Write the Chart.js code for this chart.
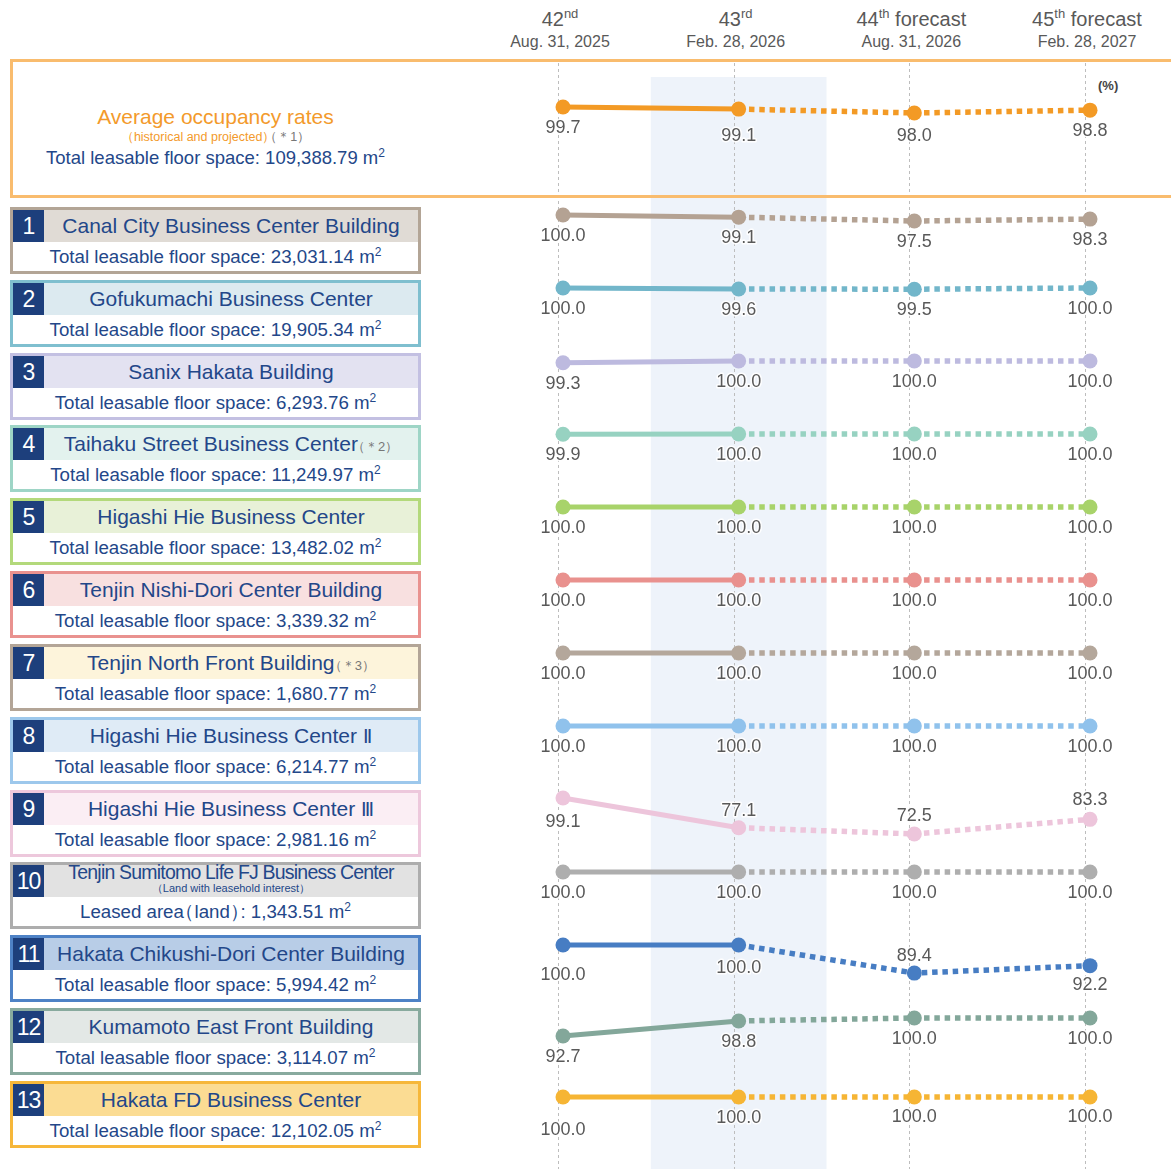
<!DOCTYPE html>
<html><head><meta charset="utf-8">
<script src="https://cdn.jsdelivr.net/npm/chart.js@4/dist/chart.umd.min.js"></script>
<style>
html,body{margin:0;padding:0;background:#fff;}
body{width:1171px;height:1169px;position:relative;overflow:hidden;font-family:"Liberation Sans",Arial,sans-serif;}
#chart{position:absolute;left:440px;top:60px;}
.hdr{position:absolute;top:6px;width:200px;margin-left:-100px;text-align:center;color:#595959;white-space:nowrap;}
.hdr .p{font-size:20px;line-height:26px;}
.hdr .p sup{font-size:13px;line-height:0;vertical-align:0.6em;}
.hdr .d{font-size:16px;line-height:20px;}
#obox{position:absolute;left:10px;top:59px;width:1180px;height:139px;border:3px solid #F9BC6E;box-sizing:border-box;z-index:5;pointer-events:none;}
#otext{position:absolute;left:10px;top:105px;width:411px;text-align:center;white-space:nowrap;}
#otext .t{color:#F39A2B;font-size:21px;line-height:24px;}
#otext .s{color:#F39A2B;font-size:12.5px;line-height:17px;}
#otext .s span.g{color:#777;}
#otext .b{color:#234789;font-size:18.5px;line-height:23px;}
sup.m{font-size:12px;line-height:0;vertical-align:0.6em;}
.op{margin-left:-0.45em;}
.cp{margin-right:-0.45em;}
.rn{font-family:"DejaVu Sans",sans-serif;font-size:19px;}
#pct{position:absolute;left:1098px;top:78px;font-size:13px;color:#444;font-weight:bold;}
.bx{position:absolute;left:10px;width:411px;height:67px;border:3px solid;box-sizing:border-box;background:#fff;}
.num{position:absolute;left:0;top:0;width:31px;height:32px;background:#1D3F7C;color:#fff;font-size:23px;line-height:32px;text-align:center;letter-spacing:-1px;}
.ttl{position:absolute;left:31px;right:0;top:0;height:32px;line-height:32px;text-align:center;color:#234789;font-size:21px;white-space:nowrap;}
.ttl .n{font-size:13px;color:#777;}
.ttl .l1{position:absolute;left:0;right:0;top:-3px;height:20px;line-height:20px;font-size:19.5px;letter-spacing:-0.8px;}
.ttl .l2{position:absolute;left:0;right:0;top:17px;height:12px;line-height:12px;font-size:11px;color:#234789;}
.body{position:absolute;left:0;right:0;top:32px;height:29px;line-height:29px;text-align:center;color:#234789;font-size:18.7px;white-space:nowrap;}
</style>
</head>
<body>
<div id="obox"></div>
<div id="otext">
  <div class="t">Average occupancy rates</div>
  <div class="s">（historical and projected<span class="cp">）</span><span class="g"><span class="op">（</span>＊1）</span></div>
  <div class="b">Total leasable floor space: <span id="totalSpace"></span> m<sup class="m">2</sup></div>
</div>
<div id="pct">(%)</div>
<div id="rows"></div>
<canvas id="chart" width="731" height="1109"></canvas>
<script>
// ---- data ----
const periodNums = ['42', '43', '44', '45'];
const periodSuffixes = ['nd', 'rd', 'th', 'th'];
const periodNotes = ['', '', 'forecast', 'forecast'];
const periodDates = ['Aug. 31, 2025', 'Feb. 28, 2026', 'Aug. 31, 2026', 'Feb. 28, 2027'];

const totalSpace = '109,388.79';
const avgOccupancy = [99.7, 99.1, 98.0, 98.8];

const buildingNames = [
  'Canal City Business Center Building',
  'Gofukumachi Business Center',
  'Sanix Hakata Building',
  'Taihaku Street Business Center',
  'Higashi Hie Business Center',
  'Tenjin Nishi-Dori Center Building',
  'Tenjin North Front Building',
  'Higashi Hie Business Center Ⅱ',
  'Higashi Hie Business Center Ⅲ',
  'Tenjin Sumitomo Life FJ Business Center',
  'Hakata Chikushi-Dori Center Building',
  'Kumamoto East Front Building',
  'Hakata FD Business Center'
];
const buildingNotes = ['', '', '', '（＊2）', '', '', '（＊3）', '', '', '', '', '', ''];
const floorSpaces = ['23,031.14', '19,905.34', '6,293.76', '11,249.97', '13,482.02', '3,339.32', '1,680.77',
  '6,214.77', '2,981.16', '1,343.51', '5,994.42', '3,114.07', '12,102.05'];

const occ01 = [100.0, 99.1, 97.5, 98.3];
const occ02 = [100.0, 99.6, 99.5, 100.0];
const occ03 = [99.3, 100.0, 100.0, 100.0];
const occ04 = [99.9, 100.0, 100.0, 100.0];
const occ05 = [100.0, 100.0, 100.0, 100.0];
const occ06 = [100.0, 100.0, 100.0, 100.0];
const occ07 = [100.0, 100.0, 100.0, 100.0];
const occ08 = [100.0, 100.0, 100.0, 100.0];
const occ09 = [99.1, 77.1, 72.5, 83.3];
const occ10 = [100.0, 100.0, 100.0, 100.0];
const occ11 = [100.0, 100.0, 89.4, 92.2];
const occ12 = [92.7, 98.8, 100.0, 100.0];
const occ13 = [100.0, 100.0, 100.0, 100.0];
const buildingSeries = [occ01, occ02, occ03, occ04, occ05, occ06, occ07, occ08, occ09, occ10, occ11, occ12, occ13];

// ---- styles ----
const lineColors = ['#F39A25', '#B4A293', '#72B6CA', '#BDBADF', '#97D2C1', '#A8D36A', '#E9918E', '#B4A79B',
  '#90C2EC', '#EDC5DB', '#AEAEAE', '#477DC3', '#83A79A', '#F6B534'];
const boxBorders = ['#B3A596', '#7FBFCF', '#C3C0E2', '#9ED5C6', '#B3D97B', '#E9928F', '#B3A597', '#9DC8EC',
  '#EDC8DC', '#ADADAD', '#4E82C6', '#88AA9E', '#F6B73A'];
const titleBgs = ['#E0DBD5', '#DCEAF0', '#E3E2F1', '#E3F2EE', '#E8F1D8', '#F8E0E0', '#FDF4DB', '#DFEBF6',
  '#FBEEF4', '#E2E2E2', '#B8CDE7', '#E3E8E6', '#FBDC93'];
// per-row axis windows (row 0 = average)
const rowMax = [113.13, 105, 105, 105, 105, 105, 105, 105, 105, 107.25, 105, 104.5, 104.86, 107.5];
const rowMin = [72.27, 74.6, 74.6, 74.6, 74.6, 74.6, 74.6, 74.6, 74.6, 53.2, 74.6, 77.0, 75.3, 77.1];
const rowWeights = [143, 73, 73, 73, 73, 73, 73, 73, 73, 73, 73, 73, 73, 73];
const labelOffsets = {0: [21, 27, 23, 21], 9: [24, -17, -18, -19], 11: [30, 23, -17, 19], 13: [33, 21, 20, 20]};
const defaultLabelOffset = 21;

// ---- left boxes ----
document.getElementById('totalSpace').textContent = totalSpace;
const fmtName = s => s.replace(/([ⅡⅢ])/g, '<span class="rn">$1</span>');
const fmtParen = s => s.replace('（', '<span class="op">（</span>').replace('）', '<span class="cp">）</span>');
const rowsEl = document.getElementById('rows');
buildingNames.forEach((name, i) => {
  const box = document.createElement('div');
  box.className = 'bx';
  box.style.top = Math.round(207 + i * 72.83) + 'px';
  box.style.borderColor = boxBorders[i];
  let title;
  if (i === 9) {
    title = `<div class="l1">${name}</div><div class="l2">（Land with leasehold interest）</div>`;
  } else {
    title = fmtName(name) + (buildingNotes[i] ? `<span class="n"><span class="op">（</span>${buildingNotes[i].slice(1)}</span>` : '');
  }
  const bodyText = i === 9 ? `Leased area${fmtParen('（land）')}: ${floorSpaces[i]} m<sup class="m">2</sup>`
                           : `Total leasable floor space: ${floorSpaces[i]} m<sup class="m">2</sup>`;
  box.innerHTML = `<div class="num">${i + 1}</div><div class="ttl" style="background:${titleBgs[i]}">${title}</div><div class="body">${bodyText}</div>`;
  rowsEl.appendChild(box);
});

// ---- chart ----
const allSeries = [avgOccupancy].concat(buildingSeries);
const scales = {
  x: {type: 'category', display: false, grid: {display: false}}
};
allSeries.forEach((s, r) => {
  scales['r' + r] = {type: 'linear', position: 'right', display: false, stack: 'rows',
    stackWeight: rowWeights[r], weight: r, min: rowMin[r], max: rowMax[r]};
});
scales['rEnd'] = {type: 'linear', position: 'right', display: false, stack: 'rows', stackWeight: 17, weight: 99, min: 0, max: 1};

const datasets = allSeries.map((s, r) => ({
  label: r === 0 ? 'Average' : buildingNames[r - 1],
  data: s,
  yAxisID: 'r' + r,
  borderColor: lineColors[r],
  backgroundColor: lineColors[r],
  pointBackgroundColor: lineColors[r],
  pointBorderWidth: 0,
  pointRadius: 7.5,
  borderWidth: 5,
  borderCapStyle: 'butt',
  tension: 0,
  clip: false,
  segment: {
    borderDash: ctx => ctx.p0DataIndex >= 1 ? [5.5, 4.8] : undefined,
    borderWidth: ctx => ctx.p0DataIndex >= 1 ? 5.5 : 5
  }
}));

const bgPlugin = {
  id: 'bgPlugin',
  beforeDatasetsDraw(chart) {
    const {ctx} = chart;
    const x = chart.scales.x;
    const xs = periodNums.map((_, i) => x.getPixelForValue(i));
    ctx.save();
    const bl = (xs[0] + xs[1]) / 2, br = (xs[1] + xs[2]) / 2;
    ctx.fillStyle = '#EEF3FA';
    ctx.fillRect(bl, 17, br - bl, chart.height - 17);
    ctx.strokeStyle = '#BDBDBD';
    ctx.lineWidth = 1;
    ctx.setLineDash([3, 3]);
    xs.forEach(px => {
      const gx = Math.round(px - 5) + 0.5;
      ctx.beginPath(); ctx.moveTo(gx, 3); ctx.lineTo(gx, chart.height); ctx.stroke();
    });
    ctx.restore();
  }
};
const labelPlugin = {
  id: 'labelPlugin',
  afterDatasetsDraw(chart) {
    const {ctx} = chart;
    ctx.save();
    ctx.font = '18px "Liberation Sans", Arial, sans-serif';
    ctx.textAlign = 'center';
    ctx.textBaseline = 'middle';
    ctx.lineJoin = 'round';
    chart.data.datasets.forEach((ds, r) => {
      const meta = chart.getDatasetMeta(r);
      meta.data.forEach((pt, i) => {
        const off = labelOffsets[r] ? labelOffsets[r][i] : defaultLabelOffset;
        const t = ds.data[i].toFixed(1);
        ctx.strokeStyle = 'rgba(255,255,255,0.9)';
        ctx.lineWidth = 3;
        ctx.strokeText(t, pt.x, pt.y + off);
        ctx.fillStyle = '#595959';
        ctx.fillText(t, pt.x, pt.y + off);
      });
    });
    ctx.restore();
  }
};

const chart = new Chart(document.getElementById('chart'), {
  type: 'line',
  data: {labels: periodNums.map((n, i) => n + periodSuffixes[i]), datasets},
  options: {
    responsive: false,
    animation: false,
    devicePixelRatio: 1,
    events: [],
    layout: {autoPadding: false, padding: {left: 123, right: 81, top: 0, bottom: 0}},
    plugins: {legend: {display: false}, tooltip: {enabled: false}},
    scales
  },
  plugins: [bgPlugin, labelPlugin]
});

// ---- column headers from the x scale ----
periodNums.forEach((n, i) => {
  const d = document.createElement('div');
  d.className = 'hdr';
  d.style.left = (440 + chart.scales.x.getPixelForValue(i) - 3) + 'px';
  d.innerHTML = `<div class="p">${n}<sup>${periodSuffixes[i]}</sup>${periodNotes[i] ? ' ' + periodNotes[i] : ''}</div><div class="d">${periodDates[i]}</div>`;
  document.body.appendChild(d);
});
</script>
</body></html>
